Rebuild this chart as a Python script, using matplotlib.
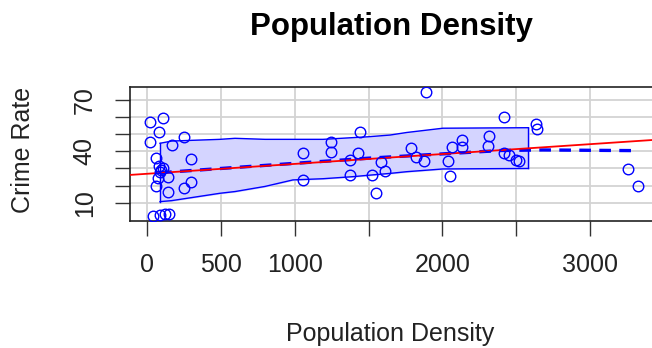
"""Crime rate vs population density scatterplot (car::scatterplot style)."""

import matplotlib

matplotlib.use("Agg")
import matplotlib.pyplot as plt
import numpy as np

plt.rcParams["font.family"] = ["Liberation Sans", "DejaVu Sans"]

density = [17, 103, 80, 17, 164, 250, 58, 295, 107, 85, 73, 141, 56, 250, 295,
           141, 39, 85, 119, 148, 92, 78,
           1052, 1052, 1242, 1242, 1439, 1429, 1373, 1373, 1520, 1549, 1585,
           1607, 1785, 1820, 1873, 1885, 2062, 2130, 2130, 2039, 2051, 2317,
           2311, 2418, 2417, 2454, 2498, 2519, 2631, 2641, 3260, 3327]
crime = [57.3, 59.3, 51.5, 45.7, 43.7, 48.6, 36.1, 35.5, 30.3, 27.8, 24.6,
         25.2, 20.0, 18.6, 21.8, 16.0, 2.2, 3.0, 3.2, 3.2, 29.1, 31.4,
         38.9, 23.0, 45.2, 39.8, 51.5, 39.0, 34.9, 26.4, 26.4, 15.8, 33.5,
         28.5, 41.9, 36.9, 34.2, 74.5, 42.4, 46.9, 42.7, 34.2, 25.5, 48.8,
         42.9, 60.2, 38.9, 37.6, 35.2, 34.4, 55.8, 53.0, 29.4, 19.8]

# linear fit, smoother and spread band
fit_intercept = 26.9
fit_slope = 0.00576
smooth_x = [85, 500, 1000, 1500, 2000, 2400, 2680, 3000, 3327]
smooth_y = [27.5, 30.0, 33.0, 36.0, 38.5, 40.5, 40.8, 40.6, 40.4]
band_x = [85, 164, 492, 593, 797, 986, 1190, 1393, 1495, 1644, 1757, 2003, 2583]
band_hi = [44.7, 46.0, 47.0, 47.6, 47.0, 47.0, 47.0, 48.0, 48.5, 49.5, 51.0, 53.5, 53.8]
band_lo = [10.6, 11.2, 15.5, 16.5, 19.5, 23.3, 24.0, 25.2, 26.0, 27.1, 28.1, 29.7, 30.0]

x_ticks = [0, 500, 1000, 1500, 2000, 2500, 3000]
x_labels = ["0", "500", "1000", "", "2000", "", "3000"]
y_ticks = [10, 20, 30, 40, 50, 60, 70]
y_labels = ["10", "", "", "40", "", "", "70"]

fig = plt.figure(figsize=(6.52, 3.48), dpi=100)
ax = fig.add_axes([130 / 652, 1 - 221 / 348, 528 / 652, 133.7 / 348])

ax.set_xlim(-118.6, 3461)
ax.set_ylim(-0.7, 77.4)

for xv in x_ticks:
    ax.axvline(xv, color="#d3d3d3", lw=1.3, zorder=0)
for yv in y_ticks:
    ax.axhline(yv, color="#d3d3d3", lw=1.3, zorder=0)

ax.fill_between(band_x, band_lo, band_hi, color=(0.83, 0.83, 1.0), zorder=1)
ax.plot(band_x, band_hi, color="blue", lw=1, zorder=2)
ax.plot(band_x, band_lo, color="blue", lw=1, zorder=2)
ax.plot([band_x[0]] * 2, [band_lo[0], band_hi[0]], color="blue", lw=1, zorder=2)
ax.plot([band_x[-1]] * 2, [band_lo[-1], band_hi[-1]], color="blue", lw=1, zorder=2)

xs = np.array(ax.get_xlim())
ax.plot(xs, fit_intercept + fit_slope * xs, color="red", lw=1.3, zorder=4)
ax.plot(smooth_x, smooth_y, color="blue", lw=2.4, ls=(0, (3.5, 2.5)), zorder=3)

ax.plot(density, crime, "o", mfc="none", mec="blue", ms=7.6, mew=1, zorder=5)

for side in ["top", "left", "bottom", "right"]:
    ax.spines[side].set_color("#222222")
    ax.spines[side].set_linewidth(1.2)

ax.set_xticks(x_ticks)
ax.set_xticklabels(x_labels, fontsize=18, color="#222222")
ax.set_yticks(y_ticks)
ax.set_yticklabels(y_labels, fontsize=18, color="#222222", rotation=90,
                   va="center")
ax.tick_params(axis="both", length=11, width=1, color="#333333")
ax.tick_params(axis="x", pad=12)
ax.tick_params(axis="y", pad=13)

fig.text(391 / 652, 1 - 35 / 348, "Population Density", fontsize=22.5,
         fontweight="bold", ha="center", va="baseline")
fig.text(390 / 652, 1 - 341.5 / 348, "Population Density", fontsize=18,
         ha="center", va="baseline", color="#222222")
fig.text(35 / 652, 1 - 150 / 348, "Crime Rate", fontsize=18, rotation=90,
         ha="right", va="center", color="#222222")

fig.savefig("out.png", dpi=100)
